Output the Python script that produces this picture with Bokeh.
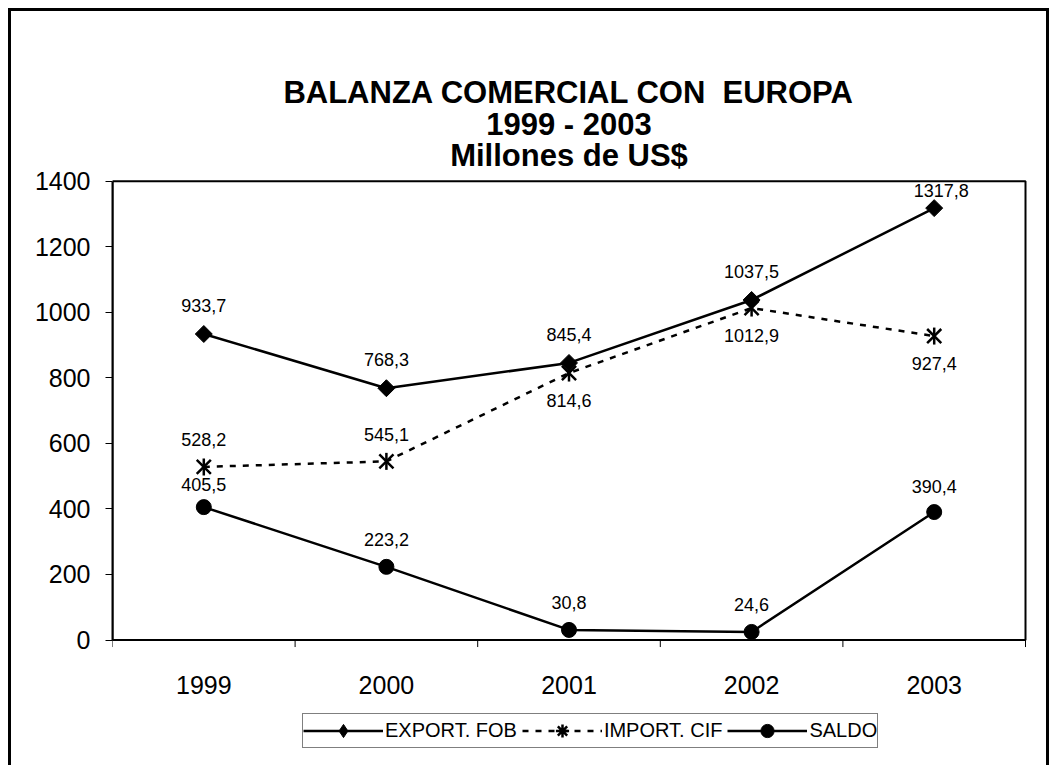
import math
from bokeh.plotting import figure
from bokeh.models import (Range1d, FixedTicker, ColumnDataSource, Legend, LegendItem)
from bokeh.core.properties import value
from bokeh.embed import file_html
from bokeh.resources import INLINE

# ---- data ----
years = ["1999", "2000", "2001", "2002", "2003"]
export_fob = [933.7, 768.3, 845.4, 1037.5, 1317.8]
import_cif = [528.2, 545.1, 814.6, 1012.9, 927.4]
saldo = [405.5, 223.2, 30.8, 24.6, 390.4]
y_ticks = [0, 200, 400, 600, 800, 1000, 1200, 1400]
title_lines = ["BALANZA COMERCIAL CON \u00a0EUROPA", "1999 - 2003", "Millones de US$"]
legend_labels = ["EXPORT. FOB", "IMPORT. CIF", "SALDO"]

FONT = "Liberation Sans"

xs = list(range(1, len(years) + 1))
y_min, y_max = y_ticks[0], y_ticks[-1]

# layout constants (pixels)
K = 457.0 / (y_max - y_min)        # px per y unit
PX_X = 914.0 / len(years)          # px per category
EXTRA_TOP = 169.0                  # room above the plot box for the titles
EXTRA_BOTTOM = 123.0               # room below the axis for labels + legend

def fmt(v):
    return f"{v:.1f}".replace(".", ",")

p = figure(width=1035, height=754, output_backend="svg", toolbar_location=None,
           x_axis_location=None,
           x_range=Range1d(xs[0] - 0.5, xs[-1] + 0.5 + 2 / PX_X),
           y_range=Range1d(y_min - EXTRA_BOTTOM / K, y_max + EXTRA_TOP / K),
           min_border_left=101, min_border_right=25, min_border_top=0, min_border_bottom=5)
p.styles = {"border-left": "3px solid black", "border-top": "3px solid black",
            "border-right": "3px solid black", "box-sizing": "content-box",
            "margin-left": "8px", "margin-top": "8px"}

p.outline_line_color = None
p.xgrid.visible = False
p.ygrid.visible = False
p.background_fill_color = "white"
p.border_fill_color = "white"

# y axis
p.yaxis.ticker = FixedTicker(ticks=y_ticks)
p.yaxis.bounds = (y_min, y_max)
p.yaxis.major_tick_out = 7
p.yaxis.major_tick_in = 0
p.yaxis.minor_tick_out = 0
p.yaxis.minor_tick_in = 0
p.yaxis.axis_line_width = 2
p.yaxis.major_tick_line_width = 1
p.yaxis.major_label_text_font = FONT
p.yaxis.major_label_text_font_size = "25px"
p.yaxis.major_label_text_color = "black"
p.yaxis.major_label_standoff = 15

# titles, centred over the plot box
x_mid = (xs[0] + xs[-1]) / 2
p.text(x=[x_mid] * 3, y=[y_max] * 3, text=title_lines, y_offset=[-89, -57, -26],
       text_font=value(FONT), text_font_size="31px", text_font_style="bold",
       text_align="center", text_baseline="middle", text_color="black")

# plot box and category axis
p.quad(left=[xs[0] - 0.5], right=[xs[-1] + 0.5], bottom=[y_min], top=[y_max],
       fill_color=None, line_color="black", line_width=2)
bounds = [x - 0.5 for x in xs] + [xs[-1] + 0.5]
p.segment(x0=bounds, y0=[y_min] * len(bounds), x1=bounds, y1=[y_min - 7 / K] * len(bounds),
          line_color="black", line_width=1)
p.text(x=xs, y=[y_min] * len(xs), text=years, y_offset=45, text_font=value(FONT),
       text_font_size="25px", text_align="center", text_baseline="middle", text_color="black")

# series
lw = 2.5
src_e = ColumnDataSource(dict(x=xs, y=export_fob, t=[fmt(v) for v in export_fob],
                              dy=[-29, -29, -28, -28, -18], dx=[0, 0, 0, 0, 7]))
src_i = ColumnDataSource(dict(x=xs, y=import_cif, t=[fmt(v) for v in import_cif],
                              dy=[-27, -27, 27, 27, 27], dx=[0, 0, 0, 0, 0]))
src_s = ColumnDataSource(dict(x=xs, y=saldo, t=[fmt(v) for v in saldo],
                              dy=[-23, -27, -27, -27, -26], dx=[0, 0, 0, 0, 0]))

le = p.line("x", "y", source=src_e, line_color="black", line_width=lw)
me = p.scatter("x", "y", source=src_e, marker="square", angle=math.pi / 4, size=12,
               fill_color="black", line_color="black")

li = p.line("x", "y", source=src_i, line_color="black", line_width=lw, line_dash="6 7")
mi1 = p.scatter("x", "y", source=src_i, marker="x", size=20, line_color="black", line_width=2.5)
mi2 = p.scatter("x", "y", source=src_i, marker="dash", angle=math.pi / 2, size=17,
                line_color="black", line_width=2.5)

ls = p.line("x", "y", source=src_s, line_color="black", line_width=lw)
ms = p.scatter("x", "y", source=src_s, marker="circle", size=15, fill_color="black", line_color="black")

# legend-only marker renderers (nothing drawn in the plot: y is missing)
src_leg = ColumnDataSource(dict(x=xs, y=[float("nan")] * len(xs)))
me_leg = p.scatter("x", "y", source=src_leg, marker="diamond",
                   fill_color="black", line_color="black")
mi_leg = p.scatter("x", "y", source=src_leg, marker="asterisk",
                   line_color="black", line_width=2.5)

for src in (src_e, src_i, src_s):
    p.text("x", "y", text="t", source=src, x_offset="dx", y_offset="dy",
           text_font=value(FONT), text_font_size="18px", text_align="center",
           text_baseline="middle", text_color="black")

legend = Legend(items=[
    LegendItem(label=legend_labels[0], renderers=[le, me_leg]),
    LegendItem(label=legend_labels[1], renderers=[li, mi_leg]),
    LegendItem(label=legend_labels[2], renderers=[ls, ms]),
], orientation="horizontal", location=(190, 15), padding=0, margin=0, spacing=5,
   glyph_width=80, glyph_height=33, label_height=33, label_standoff=2,
   label_text_font=FONT, label_text_font_size="20px", label_text_color="black",
   label_text_baseline="middle",
   border_line_color="black", border_line_width=1, background_fill_alpha=1,
   background_fill_color="white")
p.add_layout(legend, "center")

open("out.html", "w").write(file_html(p, INLINE))
